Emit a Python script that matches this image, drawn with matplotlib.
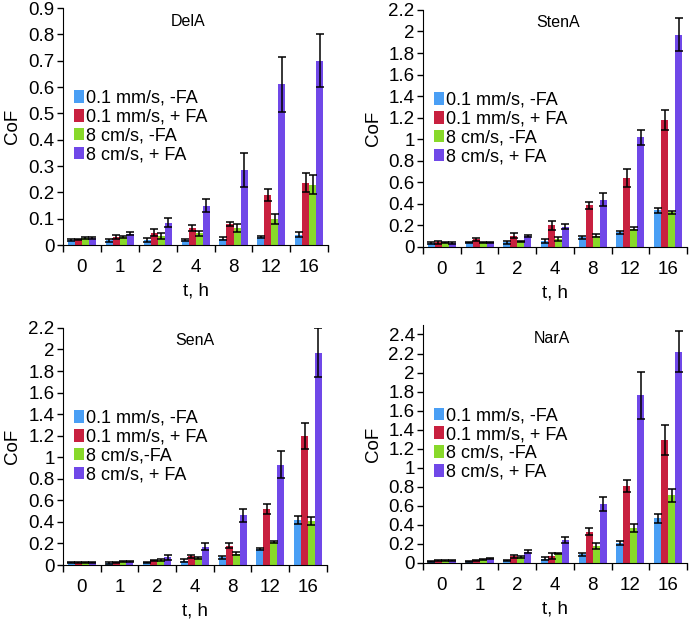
import numpy as np
from matplotlib import pyplot as plt

plt.rcParams['font.family'] = ['Liberation Sans', 'DejaVu Sans']

times = ['0', '1', '2', '4', '8', '12', '16']
labels = ['0.1 mm/s, -FA', '0.1 mm/s, + FA', '8 cm/s, -FA', '8 cm/s, + FA']
labels_sen = ['0.1 mm/s, -FA', '0.1 mm/s, + FA', '8 cm/s,-FA', '8 cm/s, + FA']
colors = ['#4a9ff5', '#c8203f', '#88d92a', '#7048e8']

# DelA
del_blue = [0.018, 0.018, 0.02, 0.02, 0.025, 0.03, 0.04]
del_red = [0.022, 0.03, 0.047, 0.065, 0.08, 0.19, 0.237]
del_green = [0.027, 0.03, 0.035, 0.045, 0.065, 0.1, 0.23]
del_purple = [0.028, 0.043, 0.085, 0.15, 0.285, 0.61, 0.70]
del_blue_err = [0.004, 0.007, 0.007, 0.005, 0.004, 0.004, 0.008]
del_red_err = [0.003, 0.007, 0.013, 0.012, 0.008, 0.022, 0.035]
del_green_err = [0.004, 0.004, 0.012, 0.01, 0.015, 0.018, 0.037]
del_purple_err = [0.004, 0.005, 0.017, 0.025, 0.065, 0.105, 0.1]

# StenA
sten_blue = [0.04, 0.045, 0.045, 0.055, 0.09, 0.135, 0.34]
sten_red = [0.045, 0.07, 0.105, 0.2, 0.385, 0.64, 1.18]
sten_green = [0.04, 0.045, 0.055, 0.075, 0.105, 0.17, 0.32]
sten_purple = [0.04, 0.045, 0.1, 0.19, 0.44, 1.02, 1.97]
sten_blue_err = [0.01, 0.005, 0.015, 0.02, 0.015, 0.01, 0.025]
sten_red_err = [0.015, 0.015, 0.025, 0.04, 0.03, 0.08, 0.095]
sten_green_err = [0.005, 0.005, 0.005, 0.02, 0.015, 0.015, 0.015]
sten_purple_err = [0.01, 0.005, 0.01, 0.025, 0.06, 0.07, 0.155]

# SenA
sen_blue = [0.02, 0.02, 0.025, 0.04, 0.07, 0.145, 0.42]
sen_red = [0.02, 0.025, 0.045, 0.08, 0.18, 0.52, 1.2]
sen_green = [0.025, 0.03, 0.045, 0.065, 0.105, 0.215, 0.41]
sen_purple = [0.025, 0.03, 0.07, 0.17, 0.46, 0.93, 1.97]
sen_blue_err = [0.005, 0.01, 0.005, 0.015, 0.01, 0.01, 0.035]
sen_red_err = [0.005, 0.005, 0.005, 0.015, 0.02, 0.05, 0.12]
sen_green_err = [0.005, 0.005, 0.01, 0.01, 0.015, 0.01, 0.04]
sen_purple_err = [0.005, 0.005, 0.02, 0.03, 0.06, 0.125, 0.225]

# NarA
nar_blue = [0.02, 0.02, 0.025, 0.045, 0.09, 0.21, 0.47]
nar_red = [0.025, 0.03, 0.07, 0.075, 0.33, 0.81, 1.29]
nar_green = [0.025, 0.035, 0.06, 0.1, 0.18, 0.37, 0.71]
nar_purple = [0.025, 0.045, 0.12, 0.24, 0.62, 1.76, 2.22]
nar_blue_err = [0.005, 0.005, 0.005, 0.015, 0.015, 0.02, 0.045]
nar_red_err = [0.005, 0.005, 0.015, 0.03, 0.035, 0.065, 0.16]
nar_green_err = [0.005, 0.005, 0.01, 0.01, 0.03, 0.04, 0.065]
nar_purple_err = [0.005, 0.005, 0.02, 0.03, 0.07, 0.25, 0.215]

panels = [
    ('DelA', [del_blue, del_red, del_green, del_purple],
     [del_blue_err, del_red_err, del_green_err, del_purple_err],
     labels, 0.9, 0.1, [0.0914, 0.604, 0.385, 0.383], 0.47),
    ('StenA', [sten_blue, sten_red, sten_green, sten_purple],
     [sten_blue_err, sten_red_err, sten_green_err, sten_purple_err],
     labels, 2.2, 0.2, [0.614, 0.601, 0.383, 0.383], 0.51),
    ('SenA', [sen_blue, sen_red, sen_green, sen_purple],
     [sen_blue_err, sen_red_err, sen_green_err, sen_purple_err],
     labels_sen, 2.2, 0.2, [0.0914, 0.0872, 0.383, 0.383], 0.5),
    ('NarA', [nar_blue, nar_red, nar_green, nar_purple],
     [nar_blue_err, nar_red_err, nar_green_err, nar_purple_err],
     labels, 2.5, 0.2, [0.614, 0.0905, 0.383, 0.3845], 0.49),
]

fig = plt.figure(figsize=(6.89, 6.19), dpi=100)
x = np.arange(len(times))
w = 0.185
fs = 13.5

for name, series, errs, labs, ymax, step, pos, tx in panels:
    ax = fig.add_axes(pos)
    for k in range(4):
        ax.bar(x + (k - 1.5) * w, series[k], w, color=colors[k], label=labs[k],
               yerr=errs[k], error_kw=dict(ecolor='black', elinewidth=1.1,
                                           capsize=3, capthick=1.1))
    ax.set_xlim(-0.5, len(times) - 0.5)
    ax.set_ylim(0, ymax)
    ticks = np.arange(0, ymax + 1e-9, step)
    ax.set_yticks(ticks)
    ax.set_yticklabels(['%g' % round(t, 1) for t in ticks])
    ax.set_xticks(x)
    ax.set_xticklabels(times)
    ax.set_xticks(np.arange(-0.5, len(times), 1), minor=True)
    ax.tick_params(axis='x', which='major', length=0, pad=10, labelsize=fs)
    ax.tick_params(axis='x', which='minor', length=5, width=1, direction='out')
    ax.tick_params(axis='y', length=4, width=1, direction='out', labelsize=fs,
                   pad=2)
    ax.spines['top'].set_visible(False)
    ax.spines['right'].set_visible(False)
    ax.set_xlabel('t, h', fontsize=fs, labelpad=5)
    ax.set_ylabel('CoF', fontsize=fs, labelpad=5)
    ax.text(tx, 0.945, name, transform=ax.transAxes, ha='center', va='center',
            fontsize=11.5)
    ax.legend(loc='center left', bbox_to_anchor=(0.0, 0.50), frameon=False,
              fontsize=13, handlelength=0.55, handleheight=0.7,
              handletextpad=0.1, labelspacing=0.1, borderaxespad=0.2)

plt.savefig('out.png', dpi=100)
